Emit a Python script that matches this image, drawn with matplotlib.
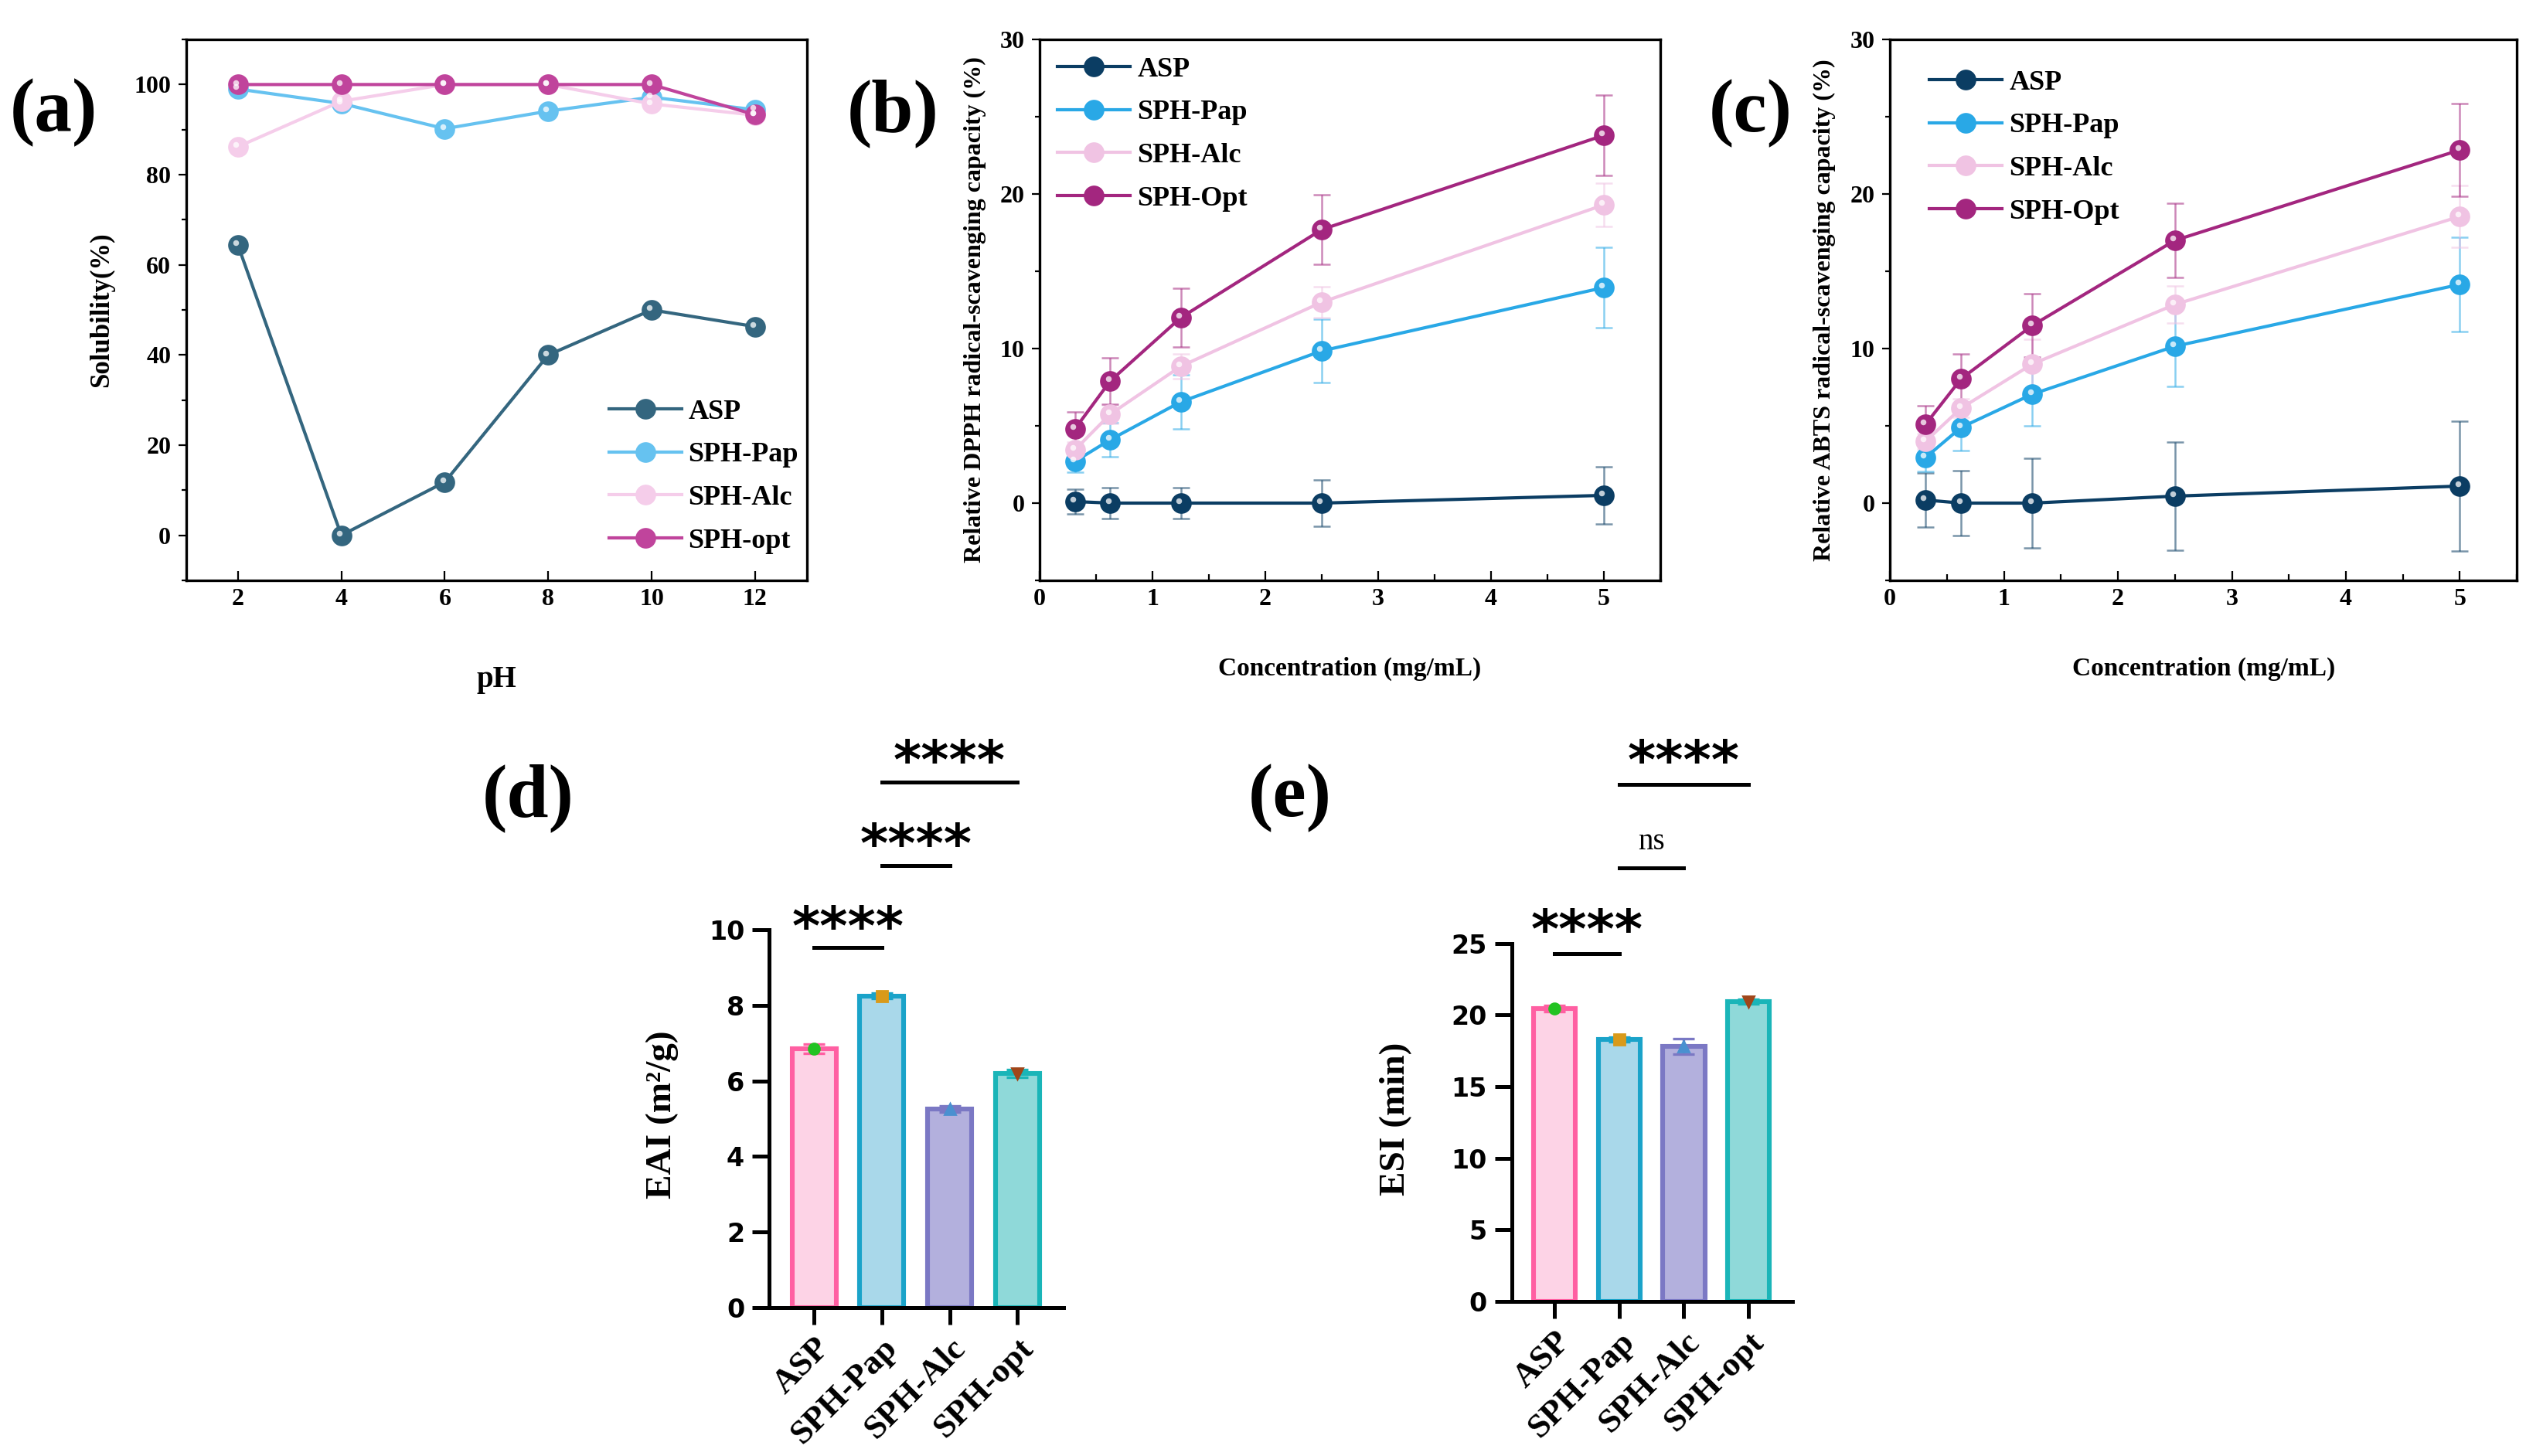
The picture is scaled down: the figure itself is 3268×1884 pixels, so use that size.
import matplotlib
matplotlib.use('Agg')
import matplotlib.pyplot as plt
from matplotlib.ticker import MultipleLocator
from matplotlib.transforms import ScaledTranslation

# (a) solubility vs pH
ph = [2, 4, 6, 8, 10, 12]
sol_asp = [64.4, 0.0, 11.8, 40.0, 50.0, 46.3]
sol_pap = [99.0, 95.8, 90.2, 94.1, 97.2, 94.4]
sol_alc = [86.2, 96.3, 100.0, 100.0, 95.7, 93.2]
sol_opt = [100.0, 100.0, 100.0, 100.0, 100.0, 93.3]

# (b) DPPH, (c) ABTS
conc = [0.3125, 0.625, 1.25, 2.5, 5]
dpph_asp = [0.1, 0.0, 0.0, 0.0, 0.5]
dpph_asp_err = [0.8, 1.0, 1.0, 1.5, 1.85]
dpph_pap = [2.7, 4.1, 6.55, 9.85, 13.95]
dpph_pap_err = [0.7, 1.1, 1.75, 2.05, 2.6]
dpph_alc = [3.45, 5.75, 8.85, 13.0, 19.3]
dpph_alc_err = [0.5, 0.6, 0.8, 1.0, 1.4]
dpph_opt = [4.8, 7.9, 12.0, 17.7, 23.8]
dpph_opt_err = [1.1, 1.5, 1.9, 2.25, 2.6]

abts_asp = [0.2, 0.0, 0.0, 0.45, 1.1]
abts_asp_err = [1.75, 2.1, 2.9, 3.5, 4.2]
abts_pap = [2.95, 4.9, 7.05, 10.15, 14.15]
abts_pap_err = [0.9, 1.5, 2.05, 2.6, 3.05]
abts_alc = [4.0, 6.15, 9.0, 12.85, 18.55]
abts_alc_err = [0.5, 0.6, 1.6, 1.2, 2.0]
abts_opt = [5.1, 8.05, 11.5, 17.0, 22.85]
abts_opt_err = [1.2, 1.6, 2.05, 2.4, 3.0]

# (d) EAI, (e) ESI
groups = ['ASP', 'SPH-Pap', 'SPH-Alc', 'SPH-opt']
eai = [6.85, 8.25, 5.25, 6.2]
eai_err = [0.12, 0.08, 0.08, 0.1]
esi = [20.45, 18.3, 17.8, 20.95]
esi_err = [0.2, 0.15, 0.55, 0.15]

SERIF = ['Liberation Serif', 'DejaVu Serif']
SANS = ['DejaVu Sans']

fig = plt.figure(figsize=(16.34, 9.42), dpi=200)


def sphere_line(ax, x, y, color, label, ms):
    line, = ax.plot(x, y, '-o', color=color, lw=1.5, ms=ms, mec=color, mew=0.6,
                    label=label, zorder=3)
    off = ScaledTranslation(-1.0 / 72, 1.0 / 72, fig.dpi_scale_trans)
    ax.plot(x, y, 'o', color='white', ms=ms * 0.3, alpha=0.75, mew=0,
            transform=ax.transData + off, zorder=4)
    return line


def style_line_axes(ax):
    for s in ax.spines.values():
        s.set_linewidth(1.2)
    ax.tick_params(axis='y', which='major', direction='out', length=3.6, width=0.8)
    ax.tick_params(axis='y', which='minor', direction='out', length=2, width=0.8)
    ax.tick_params(axis='x', which='major', direction='in', length=4.2, width=0.8)
    ax.tick_params(axis='x', which='minor', direction='in', length=3, width=0.8)
    for lab in ax.get_xticklabels() + ax.get_yticklabels():
        lab.set_family(SERIF)
        lab.set_fontweight('bold')
        lab.set_fontsize(11.5)


def legend(ax, handles, anchor):
    ax.legend(handles=handles, loc='upper left', bbox_to_anchor=anchor, frameon=False,
              borderpad=0, borderaxespad=0, handlelength=2.6, handletextpad=0.25,
              labelspacing=0.62, prop={'family': SERIF, 'weight': 'bold', 'size': 13})


# ---- (a)
ax = fig.add_axes([0.0737, 0.6014, 0.2457, 0.3715])
h = [sphere_line(ax, ph, sol_asp, '#34667f', 'ASP', 9),
     sphere_line(ax, ph, sol_pap, '#66c2f0', 'SPH-Pap', 9),
     sphere_line(ax, ph, sol_alc, '#f5cdea', 'SPH-Alc', 9),
     sphere_line(ax, ph, sol_opt, '#c0449c', 'SPH-opt', 9)]
ax.set_xlim(1, 13)
ax.set_ylim(-10, 110)
ax.set_xticks(ph)
ax.yaxis.set_major_locator(MultipleLocator(20))
ax.yaxis.set_minor_locator(MultipleLocator(10))
style_line_axes(ax)
ax.set_ylabel('Solubility(%)', family=SERIF, weight='bold', fontsize=12.5)
ax.yaxis.set_label_coords(-0.115, 0.5)
ax.set_xlabel('pH', family=SERIF, weight='bold', fontsize=14)
ax.xaxis.set_label_coords(0.5, -0.157)
legend(ax, h, (0.681, 0.335))


def scav_axes(rect, series, ylabel, anchor):
    ax = fig.add_axes(rect)
    hs = []
    for y, e, c, lab in series:
        ax.errorbar(conc, y, yerr=e, fmt='none', ecolor=c, alpha=0.55, capsize=4,
                    elinewidth=0.9, capthick=0.9, zorder=2)
        hs.append(sphere_line(ax, conc, y, c, lab, 9))
    ax.set_xlim(0, 5.5)
    ax.set_ylim(-5, 30)
    ax.xaxis.set_major_locator(MultipleLocator(1))
    ax.xaxis.set_minor_locator(MultipleLocator(0.5))
    ax.yaxis.set_major_locator(MultipleLocator(10))
    ax.yaxis.set_minor_locator(MultipleLocator(5))
    style_line_axes(ax)
    ax.set_ylabel(ylabel, family=SERIF, weight='bold', fontsize=11.5)
    ax.yaxis.set_label_coords(-0.086, 0.5)
    ax.set_xlabel('Concentration (mg/mL)', family=SERIF, weight='bold', fontsize=12)
    ax.xaxis.set_label_coords(0.5, -0.141)
    legend(ax, hs, anchor)
    return ax


# ---- (b)
scav_axes([0.4116, 0.6014, 0.2457, 0.3715],
          [(dpph_asp, dpph_asp_err, '#0b3d63', 'ASP'),
           (dpph_pap, dpph_pap_err, '#29a8e6', 'SPH-Pap'),
           (dpph_alc, dpph_alc_err, '#f0c3e3', 'SPH-Alc'),
           (dpph_opt, dpph_opt_err, '#a3267f', 'SPH-Opt')],
          'Relative DPPH radical-scavenging capacity (%)', (0.029, 0.968))

# ---- (c)
scav_axes([0.7482, 0.6014, 0.2482, 0.3715],
          [(abts_asp, abts_asp_err, '#0b3d63', 'ASP'),
           (abts_pap, abts_pap_err, '#29a8e6', 'SPH-Pap'),
           (abts_alc, abts_alc_err, '#f0c3e3', 'SPH-Alc'),
           (abts_opt, abts_opt_err, '#a3267f', 'SPH-Opt')],
          'Relative ABTS radical-scavenging capacity (%)', (0.063, 0.944))

face = ['#fdd3e6', '#a9d8ea', '#b3b0dd', '#8fd9d9']
edge = ['#ff5fa2', '#1aa3c9', '#7b78c4', '#1ab5b8']
pt_col = ['#22c322', '#d99a1a', '#4a90d0', '#a0461a']
pt_mark = ['o', 's', '^', 'v']


def bar_axes(rect, vals, errs, ylim, step, ylabel, lab_x, sigs):
    ax = fig.add_axes(rect)
    x = list(range(len(groups)))
    ax.bar(x, vals, width=0.65, color=face, edgecolor=edge, linewidth=2.2, zorder=2)
    for i in x:
        ax.errorbar(i, vals[i], yerr=errs[i], fmt='none', ecolor=edge[i], capsize=5,
                    elinewidth=1.2, capthick=1.2, zorder=3)
        ax.plot(i, vals[i], pt_mark[i], color=pt_col[i], ms=5, zorder=4)
    ax.set_xlim(-0.66, 3.68)
    ax.set_ylim(*ylim)
    ax.yaxis.set_major_locator(MultipleLocator(step))
    ax.spines['top'].set_visible(False)
    ax.spines['right'].set_visible(False)
    for s in ('left', 'bottom'):
        ax.spines[s].set_linewidth(1.8)
    ax.tick_params(axis='both', direction='out', length=8, width=1.8)
    ax.set_xticks(x)
    ax.set_xticklabels(groups, rotation=45, ha='right', rotation_mode='anchor',
                       family=SERIF, fontsize=16, weight='bold')
    for lab in ax.get_yticklabels():
        lab.set_family(SANS)
        lab.set_fontweight('bold')
        lab.set_fontsize(12)
    ax.set_ylabel(ylabel, family=SERIF, fontsize=17, weight='bold')
    ax.yaxis.set_label_coords(lab_x, 0.51)
    for i, j, yl, yt, txt in sigs:
        ax.plot([i, j], [yl, yl], color='black', lw=1.8, clip_on=False)
        if txt == 'ns':
            ax.text((i + j) / 2, yt, txt, ha='center', va='center', family=SERIF,
                    fontsize=14)
        else:
            ax.text((i + j) / 2, yt, txt, ha='center', va='center', family=SANS,
                    weight='bold', fontsize=25)
    return ax


# ---- (d)
bar_axes([0.3045, 0.1019, 0.1166, 0.2596], eai, eai_err, (0, 10), 2,
         'EAI (m²/g)', -0.307,
         [(0, 1, 9.53, 10.0, '****'), (1, 2, 11.7, 12.2, '****'),
          (1, 3, 13.9, 14.4, '****')])

# ---- (e)
bar_axes([0.5985, 0.1062, 0.1111, 0.2458], esi, esi_err, (0, 25), 5,
         'ESI (min)', -0.355,
         [(0, 1, 24.3, 25.8, '****'), (1, 2, 30.3, 32.1, 'ns'),
          (1, 3, 36.1, 37.6, '****')])

# panel letters
for x, y, t in [(0.0214, 0.9225, '(a)'), (0.3534, 0.922, '(b)'), (0.693, 0.922, '(c)'),
                (0.209, 0.452, '(d)'), (0.5107, 0.452, '(e)')]:
    fig.text(x, y, t, ha='center', va='center', family=SERIF, weight='bold', fontsize=35)

fig.savefig('out.png', dpi=200)
